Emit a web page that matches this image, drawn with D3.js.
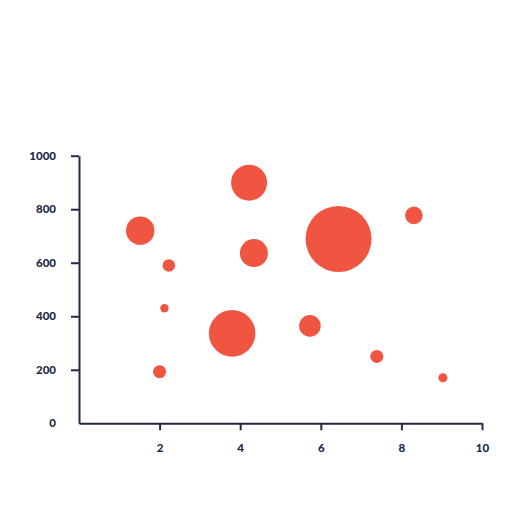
<!DOCTYPE html>
<meta charset="utf-8">
<style>
    body { margin: 0; background: #fff; }
    .axis path,
    .axis line {
        fill: none;
        stroke: #232a45;
        stroke-width: 2px;
    }
    .axis text {
        font-family: Lato, sans-serif;
        font-weight: 900;
        font-size: 11.5px;
        fill: #232a45;
    }
</style>

<svg width="532" height="532"></svg>

<script src="https://cdn.jsdelivr.net/npm/d3@7/dist/d3.min.js"></script>

<script>
    // bubble data
    var xValues = [1.52, 2.23, 2.12, 2.0, 4.22, 4.34, 3.8, 5.73, 6.44, 8.31, 7.39, 9.03];
    var yValues = [720, 590, 430, 193, 899, 636, 336, 364, 689, 777, 250, 170];
    var sizes = [185, 36, 16, 39, 298, 180, 499, 107, 1000, 71, 39, 19];
    var xTicks = [2, 4, 6, 8, 10];
    var yTicks = [0, 200, 400, 600, 800, 1000];

    (function () {
        var svg = d3.select("svg"),
            left = 79, right = 482, top = 155.7, bottom = 423.3,
            xScale = d3.scaleLinear().domain([0, 10]).range([left, right]),
            yScale = d3.scaleLinear().domain([0, 1000]).range([bottom, top]),
            rScale = d3.scaleSqrt().domain([0, 1000]).range([0, 33]);

        var points = xValues.map(function (x, i) {
            return { x: x, y: yValues[i], s: sizes[i] };
        });

        svg.append("g")
            .selectAll("circle")
            .data(points)
            .enter()
            .append("circle")
            .attr("cx", function (d) { return xScale(d.x); })
            .attr("cy", function (d) { return yScale(d.y); })
            .attr("r", function (d) { return rScale(d.s); })
            .attr("fill", "#f05542");

        svg.append("g")
            .attr("class", "axis")
            .attr("transform", "translate(0," + bottom + ")")
            .call(d3.axisBottom(xScale).tickValues(xTicks).tickSize(7).tickSizeOuter(0).tickPadding(14));

        var gy = svg.append("g")
            .attr("class", "axis")
            .attr("transform", "translate(" + left + ",0)")
            .call(d3.axisLeft(yScale).tickValues(yTicks).tickFormat(d3.format("d"))
                .tickSize(8).tickSizeOuter(0).tickPadding(15));

        // no tick mark at zero
        gy.selectAll(".tick").filter(function (d) { return d === 0; }).select("line").remove();
    })();
</script>
